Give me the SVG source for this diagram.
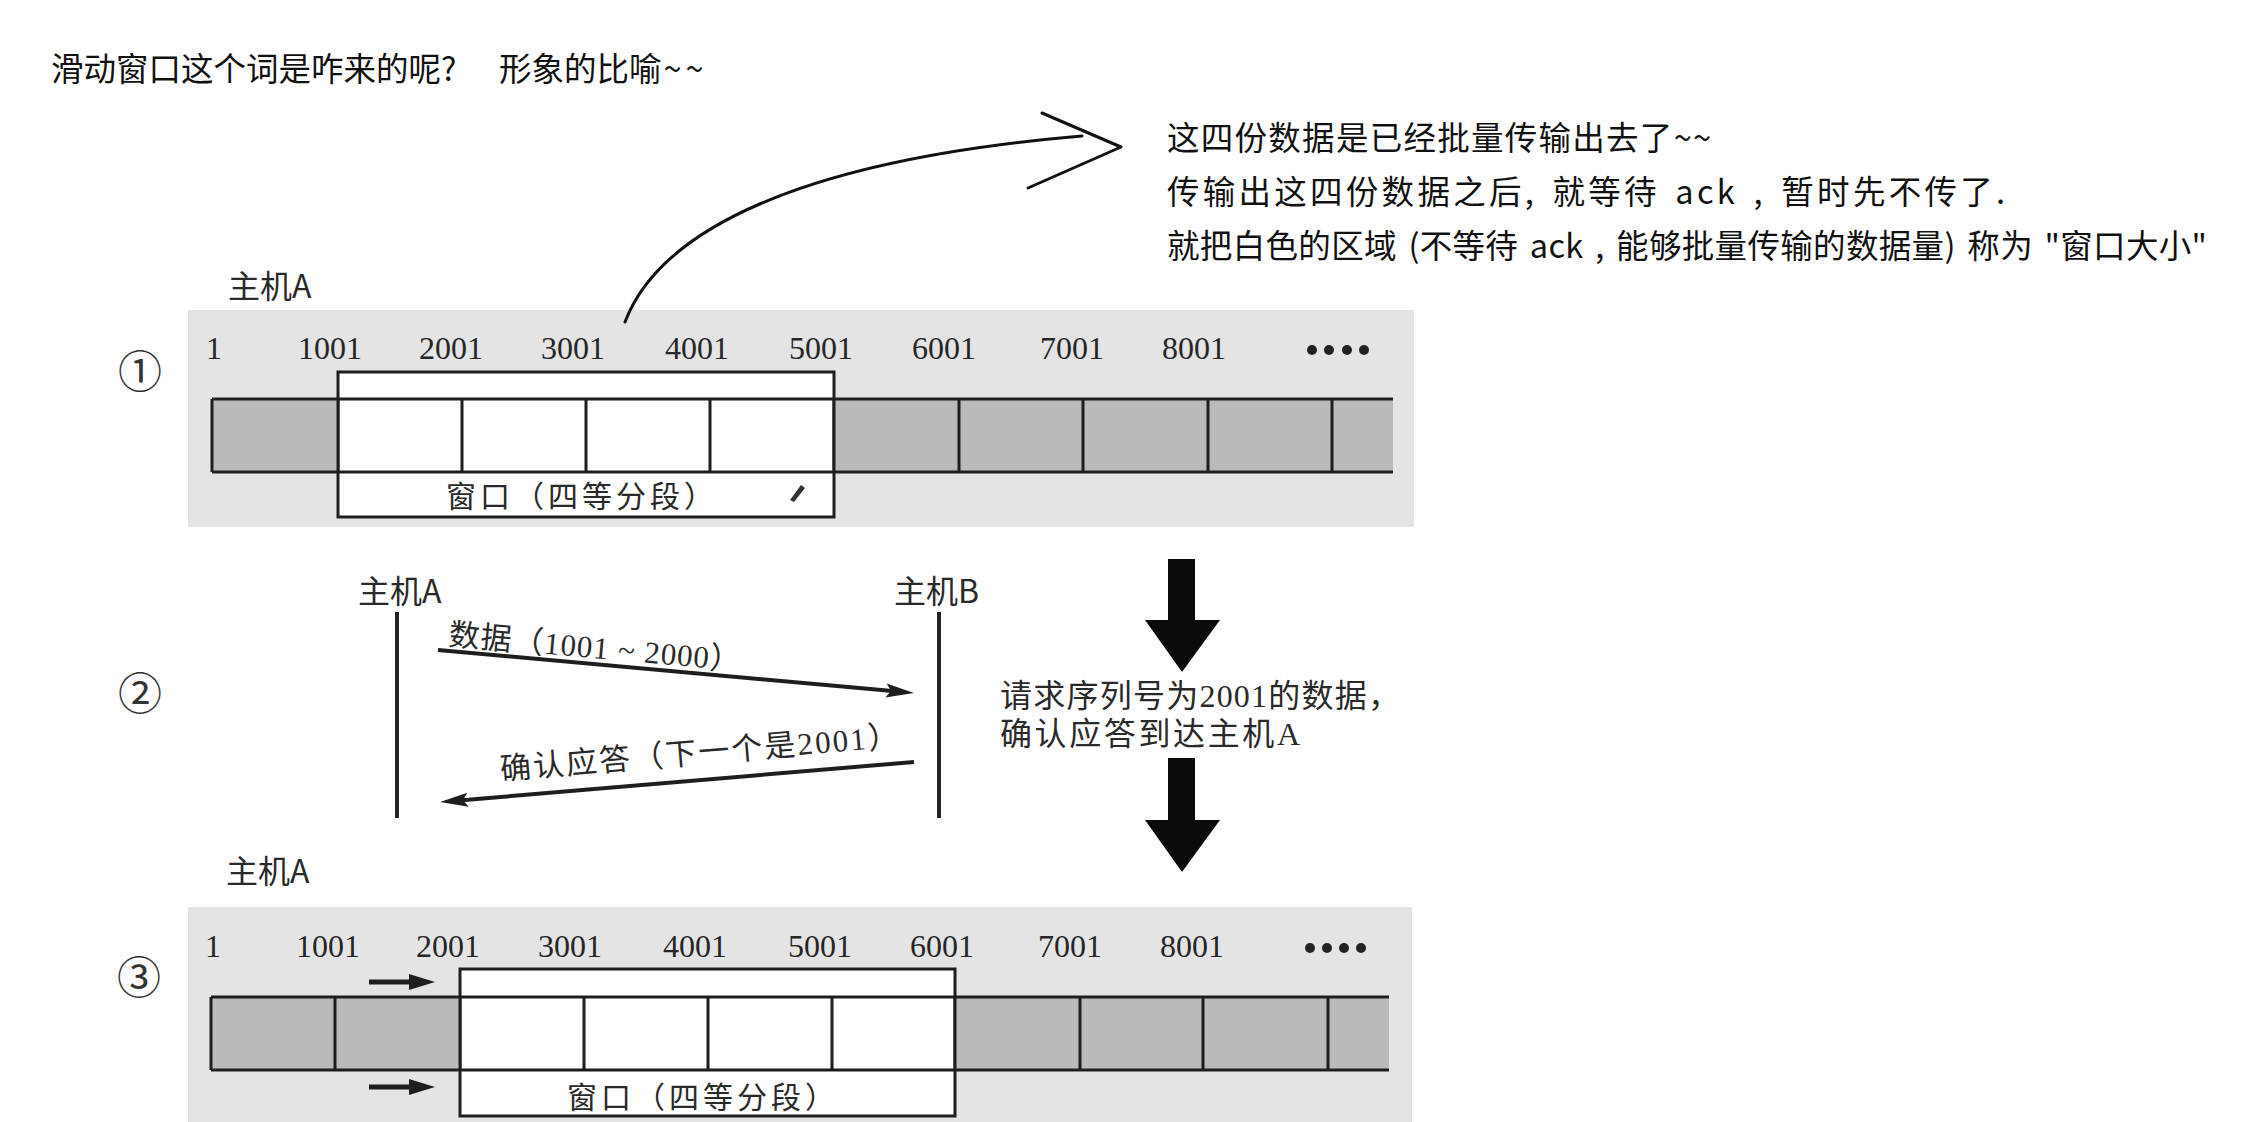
<svg xmlns="http://www.w3.org/2000/svg" width="2254" height="1122" viewBox="0 0 2254 1122">
<defs>
<style>
.sans{font-family:"Noto Sans CJK SC","Noto Sans",sans-serif;fill:#111}
.book{font-family:"Liberation Serif","Noto Sans CJK SC",serif;fill:#2a2a2a}
.host{font-family:"Noto Sans CJK SC","Noto Sans",sans-serif;fill:#2a2a2a;font-size:32px}
.num{font-family:"Liberation Serif",serif;font-size:32px;fill:#262626}
.circ{font-family:"Noto Sans CJK SC","DejaVu Sans",sans-serif;font-size:44px;fill:#333;text-anchor:middle}
.bg{fill:#e4e4e4}
.gray{fill:#bababa}
.ln{stroke:#1e1e1e;stroke-width:3;fill:none}
.win{fill:#fff;stroke:#1e1e1e;stroke-width:3}
.life{stroke:#222;stroke-width:4;fill:none}
.msg{stroke:#1e1e1e;stroke-width:4;fill:none;marker-end:url(#ah)}
.shift{stroke:#1e1e1e;stroke-width:5;fill:none;marker-end:url(#ahs)}
.big{fill:#0a0a0a}
.hand{stroke:#111;stroke-width:3;fill:none;stroke-linecap:round;stroke-linejoin:round}
.dot{fill:#222}
</style>
<marker id="ah" markerUnits="userSpaceOnUse" markerWidth="28" markerHeight="16" refX="12" refY="8" orient="auto">
<path d="M0,1 L28,8 L0,15 L5,8 z" fill="#1e1e1e"/>
</marker>
<marker id="ahs" markerUnits="userSpaceOnUse" markerWidth="26" markerHeight="18" refX="3" refY="9" orient="auto">
<path d="M0,1 L26,9 L0,17 z" fill="#1e1e1e"/>
</marker>
</defs>
<rect x="0" y="0" width="2254" height="1122" fill="#fff"/>

<g id="title">
<text class="sans" x="51" y="81" font-size="32.5">滑动窗口这个词是咋来的呢?<tspan x="499">形象的比喻</tspan><tspan dx="2" letter-spacing="4">~~</tspan></text>
</g>

<g id="note">
<text class="sans" x="1167" y="150" font-size="32.5" textLength="544" lengthAdjust="spacing">这四份数据是已经批量传输出去了~~</text>
<text class="sans" x="1167" y="204" font-size="32.5" word-spacing="5" textLength="838" lengthAdjust="spacing">传输出这四份数据之后, 就等待 ack , 暂时先不传了.</text>
<text class="sans" x="1167" y="258" font-size="32.5" word-spacing="4" textLength="1040" lengthAdjust="spacing">就把白色的区域 (不等待 ack , 能够批量传输的数据量) 称为 "窗口大小"</text>
</g>

<g id="panel1">
<rect class="bg" x="188" y="310" width="1226" height="217"/>
<text class="host" x="228" y="298">主机A</text>
<text class="circ" x="140" y="388">①</text>
<text class="num" x="206" y="359">1</text>
<text class="num" x="298" y="359">1001</text>
<text class="num" x="419" y="359">2001</text>
<text class="num" x="541" y="359">3001</text>
<text class="num" x="665" y="359">4001</text>
<text class="num" x="789" y="359">5001</text>
<text class="num" x="912" y="359">6001</text>
<text class="num" x="1040" y="359">7001</text>
<text class="num" x="1162" y="359">8001</text>
<circle class="dot" cx="1312" cy="350" r="5"/>
<circle class="dot" cx="1329" cy="350" r="5"/>
<circle class="dot" cx="1347" cy="350" r="5"/>
<circle class="dot" cx="1364" cy="350" r="5"/>
<rect class="win" x="338" y="372" width="496" height="145"/>
<rect class="gray" x="212" y="399" width="126" height="73"/>
<rect class="gray" x="834" y="399" width="559" height="73"/>
<path class="ln" d="M212,399 H1393 M212,472 H1393 M212,399 V472 M338,399 V472 M462,399 V472 M586,399 V472 M710,399 V472 M834,399 V472 M959,399 V472 M1083,399 V472 M1208,399 V472 M1332,399 V472"/>
<text class="book" x="582" y="507" font-size="30" letter-spacing="4" text-anchor="middle">窗口（四等分段）</text>
<path d="M790,500 L801,485 L805,488 L794,502 Z" fill="#333"/>
</g>

<g id="panel2">
<text class="circ" x="140" y="710">②</text>
<text class="host" x="358" y="603">主机A</text>
<text class="host" x="894" y="603">主机B</text>
<path class="life" d="M397,612 V818 M939,612 V818"/>
<text class="book" x="448" y="645" font-size="31" textLength="293" lengthAdjust="spacing" transform="rotate(5.1 448 645)">数据（1001 ~ 2000）</text>
<text class="book" x="501" y="780" font-size="31" textLength="400" lengthAdjust="spacing" transform="rotate(-4.8 501 780)">确认应答（下一个是2001）</text>
<text class="book" x="1000" y="707" font-size="32" textLength="400" lengthAdjust="spacing">请求序列号为2001的数据，</text>
<text class="book" x="1000" y="745" font-size="32" textLength="300" lengthAdjust="spacing">确认应答到达主机A</text>
</g>

<g id="panel3">
<rect class="bg" x="188" y="907" width="1224" height="215"/>
<text class="host" x="226" y="883">主机A</text>
<text class="circ" x="139" y="994">③</text>
<text class="num" x="205" y="957">1</text>
<text class="num" x="296" y="957">1001</text>
<text class="num" x="416" y="957">2001</text>
<text class="num" x="538" y="957">3001</text>
<text class="num" x="663" y="957">4001</text>
<text class="num" x="788" y="957">5001</text>
<text class="num" x="910" y="957">6001</text>
<text class="num" x="1038" y="957">7001</text>
<text class="num" x="1160" y="957">8001</text>
<circle class="dot" cx="1310" cy="948" r="5"/>
<circle class="dot" cx="1327" cy="948" r="5"/>
<circle class="dot" cx="1344" cy="948" r="5"/>
<circle class="dot" cx="1361" cy="948" r="5"/>
<rect class="win" x="460" y="969" width="495" height="147"/>
<rect class="gray" x="211" y="997" width="249" height="73"/>
<rect class="gray" x="955" y="997" width="434" height="73"/>
<path class="ln" d="M211,997 H1389 M211,1070 H1389 M211,997 V1070 M335,997 V1070 M460,997 V1070 M584,997 V1070 M708,997 V1070 M832,997 V1070 M955,997 V1070 M1080,997 V1070 M1203,997 V1070 M1328,997 V1070"/>
<text class="book" x="703" y="1108" font-size="30" letter-spacing="4" text-anchor="middle">窗口（四等分段）</text>
</g>

<g id="connectors">
<path class="hand" d="M625,322 C660,230 800,160 1082,136"/>
<path class="hand" d="M1042,113 L1121,147 L1028,188"/>
<path class="msg" d="M438,650 L898,691.6"/>
<path class="msg" d="M914,762 L456,800.7"/>
<path class="big" d="M1168,559 H1195 V620 H1220 L1182,672 L1145,620 H1168 Z"/>
<path class="big" d="M1168,758 H1195 V820 H1220 L1182,872 L1145,820 H1168 Z"/>
<path class="shift" d="M369,982 H412"/>
<path class="shift" d="M369,1087 H412"/>
</g>
</svg>
